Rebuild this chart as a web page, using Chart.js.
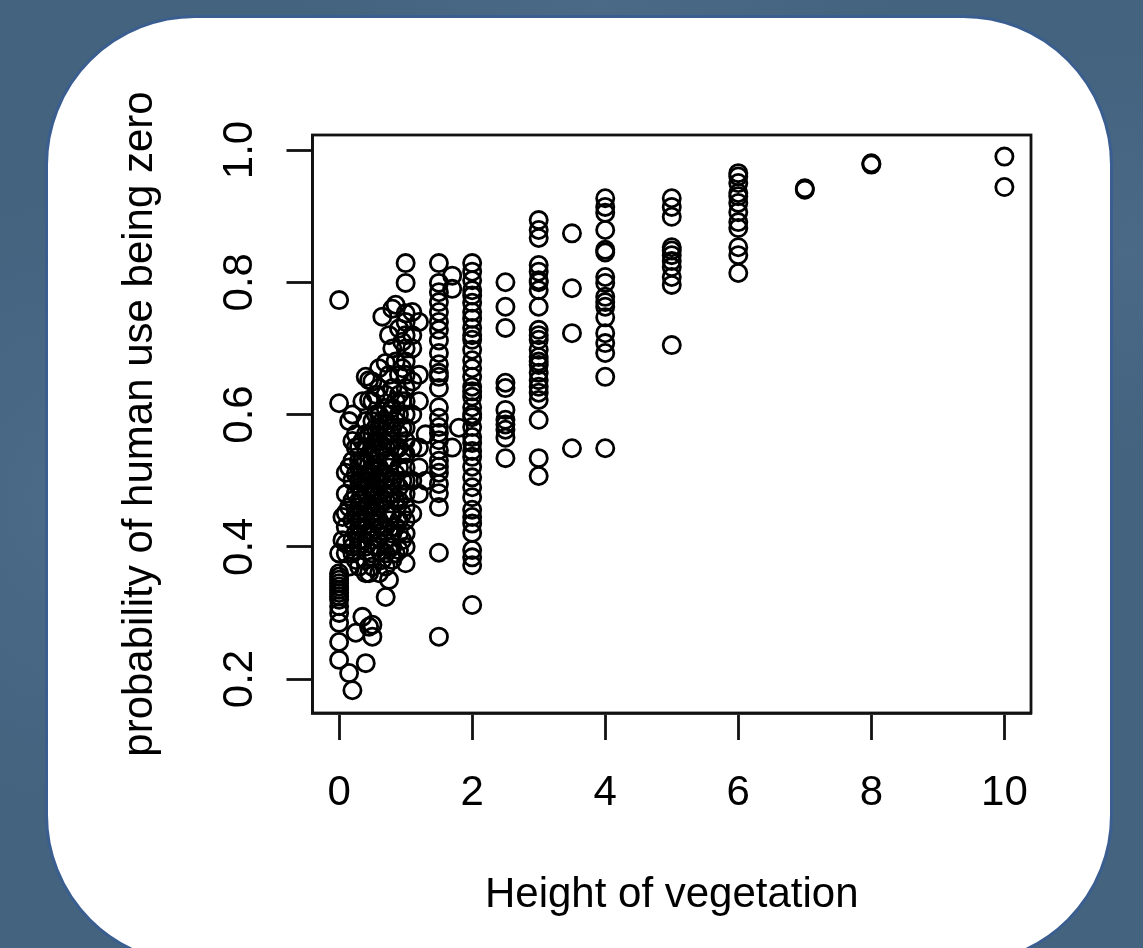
<!DOCTYPE html>
<html>
<head>
<meta charset="utf-8">
<script src="https://cdn.jsdelivr.net/npm/chart.js@4.4.1/dist/chart.umd.min.js"></script>
<style>
  html, body {
    margin: 0;
    padding: 0;
    width: 1143px;
    height: 948px;
    overflow: hidden;
  }
  body {
    background:
      radial-gradient(ellipse 200px 300px at 60px 500px, rgba(90,120,150,0.35), transparent),
      radial-gradient(ellipse 260px 200px at 1130px 250px, rgba(90,120,150,0.3), transparent),
      radial-gradient(ellipse 300px 120px at 600px 5px, rgba(90,120,150,0.3), transparent),
      #44637f;
    position: relative;
  }
  .card {
    position: absolute;
    left: 45px;
    top: 15px;
    width: 1068px;
    height: 950px;
    box-sizing: border-box;
    background: #fff;
    border: 3px solid #3b5e90;
    border-radius: 150px;
  }
  #chart {
    position: absolute;
    left: 0;
    top: 0;
  }
</style>
</head>
<body>
<div class="card"></div>
<canvas id="chart" width="1143" height="948"></canvas>
<script>
const heights = [0, 0.05, 0.1, 0.15, 0.2, 0.25, 0.3, 0.35, 0.4, 0.45, 0.5, 0.55, 0.6, 0.65, 0.7, 0.75,
  0.8, 0.85, 0.9, 0.95, 1.0, 1.1, 1.2, 1.3, 1.5, 1.7, 1.8, 2, 2.5, 3, 3.5, 4, 5, 6, 7, 8, 10];

const probs = [
  [0.773, 0.617, 0.39, 0.36, 0.355, 0.35, 0.345, 0.34, 0.335, 0.33, 0.325, 0.32, 0.31, 0.30, 0.285, 0.256, 0.229],
  [0.445, 0.41],
  [0.512, 0.451, 0.405, 0.43, 0.48, 0.39],
  [0.37, 0.209, 0.52, 0.59, 0.46],
  [0.183, 0.41, 0.44, 0.47, 0.40, 0.50, 0.53, 0.39, 0.56, 0.60],
  [0.27, 0.45, 0.42, 0.55, 0.38, 0.57, 0.48, 0.51],
  [0.551, 0.40, 0.43, 0.46, 0.49, 0.52, 0.41, 0.37, 0.44, 0.47, 0.50, 0.53],
  [0.294, 0.56, 0.47, 0.44, 0.62, 0.50, 0.53, 0.41],
  [0.657, 0.224, 0.40, 0.42, 0.45, 0.48, 0.50, 0.53, 0.55, 0.57, 0.38, 0.36, 0.46, 0.51, 0.44, 0.59],
  [0.622, 0.36, 0.279, 0.46, 0.51, 0.54, 0.652, 0.42, 0.49, 0.57],
  [0.264, 0.282, 0.37, 0.39, 0.41, 0.43, 0.45, 0.47, 0.49, 0.51, 0.53, 0.55, 0.57, 0.59, 0.62, 0.65],
  [0.40, 0.44, 0.48, 0.52, 0.56, 0.60, 0.46, 0.50, 0.54, 0.58, 0.63],
  [0.36, 0.40, 0.42, 0.44, 0.46, 0.48, 0.50, 0.52, 0.54, 0.56, 0.58, 0.60, 0.64, 0.67],
  [0.748, 0.38, 0.47, 0.55, 0.43, 0.51, 0.59],
  [0.678, 0.324, 0.37, 0.39, 0.41, 0.43, 0.45, 0.47, 0.49, 0.51, 0.53, 0.55, 0.57, 0.59, 0.61, 0.63],
  [0.35, 0.44, 0.52, 0.60, 0.66, 0.72, 0.40, 0.48, 0.56],
  [0.38, 0.40, 0.42, 0.45, 0.48, 0.50, 0.53, 0.56, 0.58, 0.61, 0.64, 0.70, 0.76],
  [0.766, 0.43, 0.47, 0.51, 0.55, 0.59, 0.62, 0.68, 0.39],
  [0.395, 0.42, 0.44, 0.47, 0.49, 0.52, 0.55, 0.57, 0.60, 0.63, 0.66, 0.73],
  [0.41, 0.45, 0.50, 0.54, 0.58, 0.62, 0.67, 0.71],
  [0.829, 0.799, 0.753, 0.70, 0.375, 0.72, 0.68, 0.66, 0.64, 0.62, 0.60, 0.58, 0.56, 0.54, 0.52, 0.50, 0.48, 0.46, 0.44, 0.42, 0.40, 0.74],
  [0.755, 0.45, 0.50, 0.55, 0.60, 0.65, 0.70, 0.72],
  [0.62, 0.55, 0.48, 0.66, 0.74, 0.52],
  [0.57, 0.50],
  [0.829, 0.799, 0.785, 0.770, 0.755, 0.740, 0.728, 0.712, 0.693, 0.676, 0.663, 0.657, 0.640, 0.611, 0.595,
    0.581, 0.572, 0.561, 0.546, 0.530, 0.521, 0.512, 0.495, 0.481, 0.460, 0.391, 0.264],
  [0.55, 0.79, 0.81],
  [0.58],
  [0.829, 0.816, 0.803, 0.788, 0.780, 0.769, 0.755, 0.745, 0.731, 0.720, 0.713, 0.698, 0.682, 0.670, 0.657,
    0.642, 0.635, 0.627, 0.611, 0.600, 0.596, 0.581, 0.566, 0.557, 0.545, 0.536, 0.521, 0.505, 0.490, 0.475,
    0.456, 0.445, 0.435, 0.421, 0.395, 0.384, 0.372, 0.312],
  [0.800, 0.763, 0.731, 0.648, 0.640, 0.607, 0.592, 0.585, 0.577, 0.565, 0.534],
  [0.894, 0.879, 0.867, 0.826, 0.816, 0.803, 0.800, 0.788, 0.763, 0.728, 0.720, 0.713, 0.698, 0.687, 0.680,
    0.675, 0.663, 0.652, 0.642, 0.633, 0.622, 0.592, 0.534, 0.507],
  [0.874, 0.791, 0.723, 0.549],
  [0.927, 0.914, 0.905, 0.879, 0.849, 0.845, 0.808, 0.799, 0.778, 0.770, 0.763, 0.747, 0.723, 0.708, 0.693, 0.657, 0.549],
  [0.927, 0.914, 0.899, 0.853, 0.848, 0.841, 0.832, 0.823, 0.808, 0.796, 0.705],
  [0.965, 0.960, 0.950, 0.935, 0.930, 0.920, 0.906, 0.891, 0.882, 0.853, 0.841, 0.814],
  [0.940, 0.942],
  [0.980, 0.978],
  [0.990, 0.944]
];

const xTicks = [0, 2, 4, 6, 8, 10];
const yTicks = [0.2, 0.4, 0.6, 0.8, 1.0];
const xTitle = "Height of vegetation";
const yTitle = "probability of human use being zero";

const points = [];
heights.forEach((h, i) => {
  probs[i].forEach((p) => points.push({ x: h, y: p }));
});

const FONT = '42px "Liberation Sans", Arial, sans-serif';

// R-style box, tick labels and axis titles
const rAxesPlugin = {
  id: "rAxes",
  afterDraw(chart) {
    const ctx = chart.ctx;
    const area = chart.chartArea;
    const xs = chart.scales.x;
    const ys = chart.scales.y;
    ctx.save();
    ctx.strokeStyle = "#111";
    ctx.lineWidth = 2.8;
    ctx.strokeRect(area.left, area.top, area.right - area.left, area.bottom - area.top);

    ctx.fillStyle = "#000";
    ctx.font = FONT;
    ctx.textAlign = "center";
    ctx.textBaseline = "alphabetic";
    xTicks.forEach((v) => {
      ctx.fillText(String(v), xs.getPixelForValue(v), 805);
    });
    ctx.fillText(xTitle, (area.left + area.right) / 2, 907);

    yTicks.forEach((v) => {
      ctx.save();
      ctx.translate(252, ys.getPixelForValue(v));
      ctx.rotate(-Math.PI / 2);
      ctx.fillText(v.toFixed(1), 0, 0);
      ctx.restore();
    });
    ctx.save();
    ctx.translate(152, (area.top + area.bottom) / 2);
    ctx.rotate(-Math.PI / 2);
    ctx.fillText(yTitle, 0, 0);
    ctx.restore();
    ctx.restore();
  }
};

const ctx = document.getElementById("chart").getContext("2d");

new Chart(ctx, {
  type: "scatter",
  data: {
    datasets: [
      {
        label: "obs",
        data: points,
        pointStyle: "circle",
        pointRadius: 8.6,
        pointBorderWidth: 2.8,
        pointBorderColor: "#000",
        pointBackgroundColor: "rgba(0,0,0,0)",
        borderColor: "#000",
        backgroundColor: "rgba(0,0,0,0)",
        pointHoverRadius: 8.6
      }
    ]
  },
  options: {
    responsive: false,
    animation: false,
    devicePixelRatio: 1,
    elements: {
      point: { borderWidth: 2.8, radius: 8.6 }
    },
    layout: {
      padding: { left: 0, top: 135, right: 112, bottom: 0 }
    },
    plugins: {
      legend: { display: false },
      tooltip: { enabled: false }
    },
    scales: {
      x: {
        type: "linear",
        min: -0.4,
        max: 10.4,
        afterBuildTicks: (scale) => {
          scale.ticks = xTicks.map((v) => ({ value: v }));
        },
        afterFit: (scale) => {
          scale.height = 235;
        },
        ticks: { display: false },
        grid: {
          drawOnChartArea: false,
          drawTicks: true,
          tickLength: 27,
          tickWidth: 2.8,
          tickColor: "#111"
        },
        border: { display: true, color: "#111", width: 2.8 }
      },
      y: {
        type: "linear",
        min: 0.1486,
        max: 1.0227,
        afterBuildTicks: (scale) => {
          scale.ticks = yTicks.map((v) => ({ value: v }));
        },
        afterFit: (scale) => {
          scale.width = 312.5;
        },
        ticks: { display: false },
        grid: {
          drawOnChartArea: false,
          drawTicks: true,
          tickLength: 26,
          tickWidth: 2.8,
          tickColor: "#111"
        },
        border: { display: true, color: "#111", width: 2.8 }
      }
    }
  },
  plugins: [rAxesPlugin]
});
</script>
</body>
</html>
